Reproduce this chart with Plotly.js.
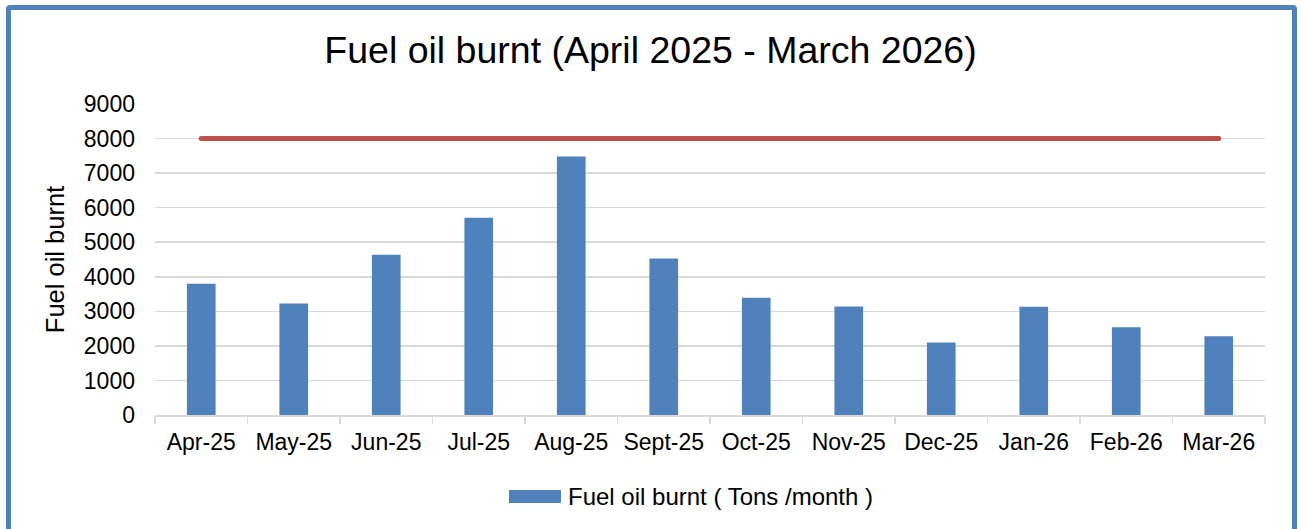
<!DOCTYPE html>
<html>
<head>
<meta charset="utf-8">
<script src="https://cdn.plot.ly/plotly-3.0.1.min.js"></script>
<style>
  html, body { margin: 0; padding: 0; background: #ffffff; overflow: hidden; }
  #wrap { position: relative; width: 1301px; height: 529px; }
  #chart { position: absolute; left: 0; top: 0; width: 1301px; height: 529px; }
  #frame { position: absolute; left: 6px; top: 5px; width: 1291px; height: 600px;
           box-sizing: border-box; border: 5.5px solid #4F81BD; border-radius: 4px;
           pointer-events: none; }
  #chart .scatterlayer path.js-line { stroke-linecap: round; }
</style>
</head>
<body>
<div id="wrap">
  <div id="chart"></div>
  <div id="frame"></div>
</div>
<script>
// ---- data ----
const months = ["Apr-25", "May-25", "Jun-25", "Jul-25", "Aug-25", "Sept-25",
                "Oct-25", "Nov-25", "Dec-25", "Jan-26", "Feb-26", "Mar-26"];
const fuelBurnt = [3800, 3230, 4640, 5710, 7480, 4530, 3390, 3140, 2100, 3130, 2540, 2280];
const limitLine = [8000, 8000, 8000, 8000, 8000, 8000, 8000, 8000, 8000, 8000, 8000, 8000];
const yTicks = [0, 1000, 2000, 3000, 4000, 5000, 6000, 7000, 8000, 9000];
const chartTitle = "Fuel oil burnt (April 2025 - March 2026)";
const yTitle = "Fuel oil burnt";
const legendLabel = "Fuel oil burnt ( Tons /month )";

const FONT = "Liberation Sans, Arial, Helvetica, sans-serif";

const traces = [
  {
    type: "bar",
    x: months,
    y: fuelBurnt,
    name: legendLabel,
    width: 0.31,
    marker: { color: "#4F81BD", line: { width: 0 } },
    hoverinfo: "x+y"
  },
  {
    type: "scatter",
    mode: "lines",
    x: months,
    y: limitLine,
    name: "Limit",
    line: { color: "#C0504D", width: 5 },
    hoverinfo: "skip"
  }
];

const layout = {
  width: 1301,
  height: 529,
  margin: { l: 155, r: 36, t: 104, b: 114 },
  paper_bgcolor: "#ffffff",
  plot_bgcolor: "#ffffff",
  showlegend: false,
  font: { family: FONT, color: "#000000", size: 23 },
  title: {
    text: chartTitle,
    font: { family: FONT, size: 37.5, color: "#000000" },
    x: 0.5, xref: "container", xanchor: "center",
    y: 1 - 50 / 529, yref: "container", yanchor: "middle"
  },
  xaxis: {
    type: "category",
    showgrid: false,
    showline: true,
    linecolor: "#D9D9D9",
    linewidth: 1.5,
    ticks: "outside",
    tickson: "boundaries",
    ticklen: 7,
    tickwidth: 1.5,
    tickcolor: "#D9D9D9",
    ticklabelstandoff: 6,
    tickfont: { family: FONT, size: 23, color: "#000000" },
    zeroline: false,
    fixedrange: true
  },
  yaxis: {
    range: [0, 9000],
    tickvals: yTicks,
    ticktext: yTicks.map(String),
    showgrid: true,
    gridcolor: "#D9D9D9",
    gridwidth: 1.5,
    showline: false,
    zeroline: false,
    ticks: "",
    ticklabelstandoff: 19,
    tickfont: { family: FONT, size: 23, color: "#000000" },
    title: { text: yTitle, font: { family: FONT, size: 25.5, color: "#000000" }, standoff: 11 },
    fixedrange: true
  },
  shapes: [
    {
      type: "rect", xref: "paper", yref: "paper",
      x0: (509 - 155) / 1110, x1: (561 - 155) / 1110,
      y0: (415 - 490) / 311, y1: (415 - 503) / 311,
      fillcolor: "#4F81BD", line: { width: 0 }
    }
  ],
  annotations: [
    {
      text: legendLabel, xref: "paper", yref: "paper",
      x: (566 - 155) / 1110, y: (415 - 496) / 311,
      xanchor: "left", yanchor: "middle", showarrow: false,
      font: { family: FONT, size: 24, color: "#000000" }
    }
  ]
};

Plotly.newPlot("chart", traces, layout, { displayModeBar: false, staticPlot: true });
</script>
</body>
</html>
